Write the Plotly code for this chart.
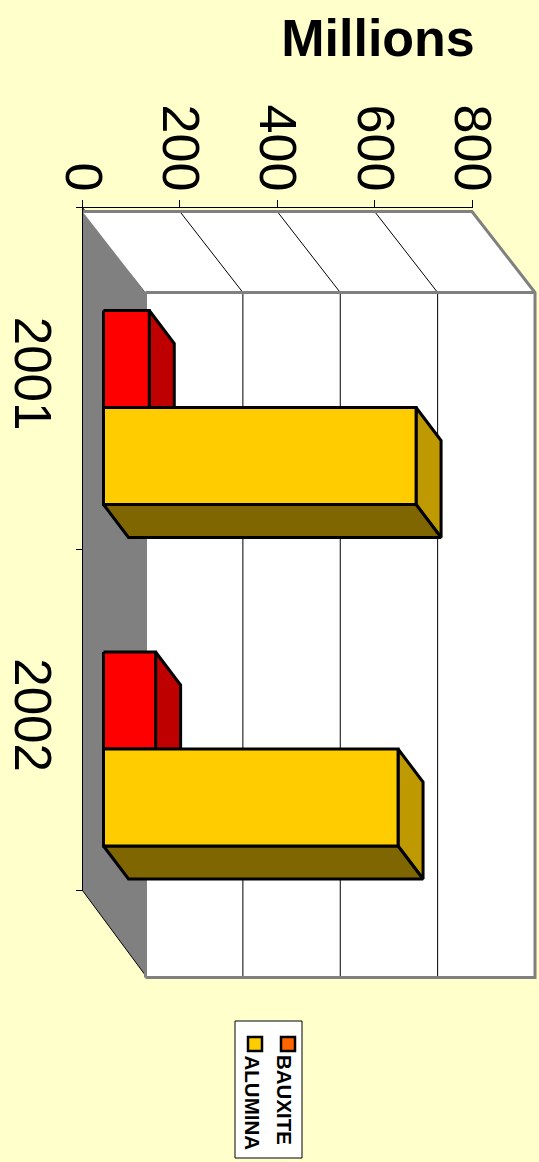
import plotly.graph_objects as go

categories = ["2001", "2002"]
bauxite = [94, 107]
alumina = [642, 605]
value_ticks = [0, 200, 400, 600, 800]

W, H = 539, 1162
PX_X = 389.5 / 800        # px per value unit
PX_Y = 341.5              # px per category
ORIGIN_X, ORIGIN_Y = 82.5, 207.5

# 3D projection offsets, in axis units
WALL_DX, WALL_DY = 63 / PX_X, 85 / PX_Y
WALL_BOTTOM = 2 + WALL_DY + 2 / PX_Y
BAR_X0 = 21 / PX_X
BAR_START = 0.3016
BAR_W = 0.284
BAR_DX, BAR_DY = 25 / PX_X, 33 / PX_Y
TOP_INSET = 4 / PX_Y
LABEL_NUDGE = 3 / PX_Y

GREY = "#808080"
BLACK = "#000000"
fig = go.Figure()


def poly(xs, ys, fill, line=None, width=0):
    fig.add_trace(go.Scatter(
        x=list(xs) + [xs[0]], y=list(ys) + [ys[0]], mode="lines", fill="toself",
        fillcolor=fill, line=dict(color=line or fill, width=width),
        hoverinfo="skip", showlegend=False))


def path(xs, ys, color, width):
    fig.add_trace(go.Scatter(
        x=xs, y=ys, mode="lines", line=dict(color=color, width=width),
        hoverinfo="skip", showlegend=False))


n = len(categories)
# side wall
poly([0, WALL_DX, WALL_DX, 0], [0, WALL_DY, n + WALL_DY, n], GREY, BLACK, 1)
# floor
poly([0, 800, 800 + WALL_DX, WALL_DX], [TOP_INSET, TOP_INSET, WALL_DY, WALL_DY], "#FFFFFF")
# back wall
poly([WALL_DX, 800 + WALL_DX, 800 + WALL_DX, WALL_DX], [WALL_DY, WALL_DY, WALL_BOTTOM, WALL_BOTTOM], "#FFFFFF")
# gridlines
for v in value_ticks[1:-1]:
    path([v, v + WALL_DX, v + WALL_DX], [TOP_INSET, WALL_DY, WALL_BOTTOM], BLACK, 1)
# wall frame
path([0, 800, 800 + WALL_DX, 800 + WALL_DX, WALL_DX],
     [TOP_INSET, TOP_INSET, WALL_DY, WALL_BOTTOM, WALL_BOTTOM], GREY, 3)
path([WALL_DX, 800 + WALL_DX], [WALL_DY, WALL_DY], GREY, 3)
path([WALL_DX, WALL_DX], [WALL_DY, WALL_BOTTOM], GREY, 3)
# axis lines
path([0, 800], [0, 0], BLACK, 1)
path([0, 0], [0, n], BLACK, 1)


def bar(i, slot, value, front, side, bottom=None):
    x0 = BAR_X0
    x1 = x0 + value
    y0 = i + BAR_START + slot * BAR_W
    y1 = y0 + BAR_W
    poly([x1, x1 + BAR_DX, x1 + BAR_DX, x1], [y0, y0 + BAR_DY, y1 + BAR_DY, y1], side, BLACK, 3)
    if bottom:
        poly([x0, x1, x1 + BAR_DX, x0 + BAR_DX], [y1, y1, y1 + BAR_DY, y1 + BAR_DY], bottom, BLACK, 3)
    poly([x0, x1, x1, x0], [y0, y0, y1, y1], front, BLACK, 3)


for i in range(n):
    bar(i, 0, bauxite[i], "#FF0000", "#BF0000")
    bar(i, 1, alumina[i], "#FFCC00", "#BF9900", "#7F6600")

fig.update_layout(
    width=W, height=H, autosize=False,
    margin=dict(l=0, r=0, t=0, b=0),
    paper_bgcolor="#FFFFCC", plot_bgcolor="rgba(0,0,0,0)",
    font=dict(family="Liberation Sans, Arial, sans-serif", color=BLACK),
    title=dict(text="<b>Millions</b>", font=dict(size=52), x=378 / W, xanchor="center",
               y=1 - 38 / H, yanchor="middle", automargin=False),
    xaxis=dict(domain=[0, 1], range=[-ORIGIN_X / PX_X, (W - ORIGIN_X) / PX_X], automargin=False,
               anchor="free", position=1 - ORIGIN_Y / H, side="top", tickvals=value_ticks,
               ticktext=[str(v) for v in value_ticks], tickangle=90, ticks="outside", ticklen=8,
               tickcolor=BLACK, tickwidth=1, showline=False, ticklabelstandoff=-10,
               showgrid=False, zeroline=False, tickfont=dict(size=52)),
    yaxis=dict(domain=[0, 1], range=[(H - ORIGIN_Y) / PX_Y, -ORIGIN_Y / PX_Y], automargin=False,
               anchor="free", position=ORIGIN_X / W, tickvals=[i + 0.5 + LABEL_NUDGE for i in range(n)],
               ticktext=categories, tickangle=90, ticks="", showline=False, ticklabelstandoff=16,
               showgrid=False, zeroline=False, tickfont=dict(size=51),
               minor=dict(tickvals=list(range(n + 1)), ticks="outside", ticklen=7, tickcolor=BLACK,
                          tickwidth=1, showgrid=False)),
    shapes=[
        dict(type="rect", xref="paper", yref="paper", x0=235 / W, x1=302 / W, y0=1 - 1158 / H, y1=1 - 1021 / H,
             fillcolor="#FFFFFF", line=dict(color=BLACK, width=1), layer="above"),
        dict(type="rect", xref="paper", yref="paper", x0=281 / W, x1=295 / W, y0=1 - 1051 / H, y1=1 - 1037 / H,
             fillcolor="#FF6600", line=dict(color=BLACK, width=2.5), layer="above"),
        dict(type="rect", xref="paper", yref="paper", x0=248 / W, x1=262 / W, y0=1 - 1051 / H, y1=1 - 1037 / H,
             fillcolor="#FFCC00", line=dict(color=BLACK, width=2.5), layer="above"),
    ],
    annotations=[
        dict(text="<b>BAUXITE</b>", xref="paper", yref="paper", x=285 / W, y=1 - 1053 / H, showarrow=False,
             textangle=90, xanchor="center", yanchor="top", font=dict(size=20.5)),
        dict(text="<b>ALUMINA</b>", xref="paper", yref="paper", x=252 / W, y=1 - 1053 / H, showarrow=False,
             textangle=90, xanchor="center", yanchor="top", font=dict(size=20.5)),
    ],
)

fig.write_html("out.html", config=dict(displayModeBar=False),
               post_script="document.body.style.margin='0';document.body.style.overflow='hidden';")
